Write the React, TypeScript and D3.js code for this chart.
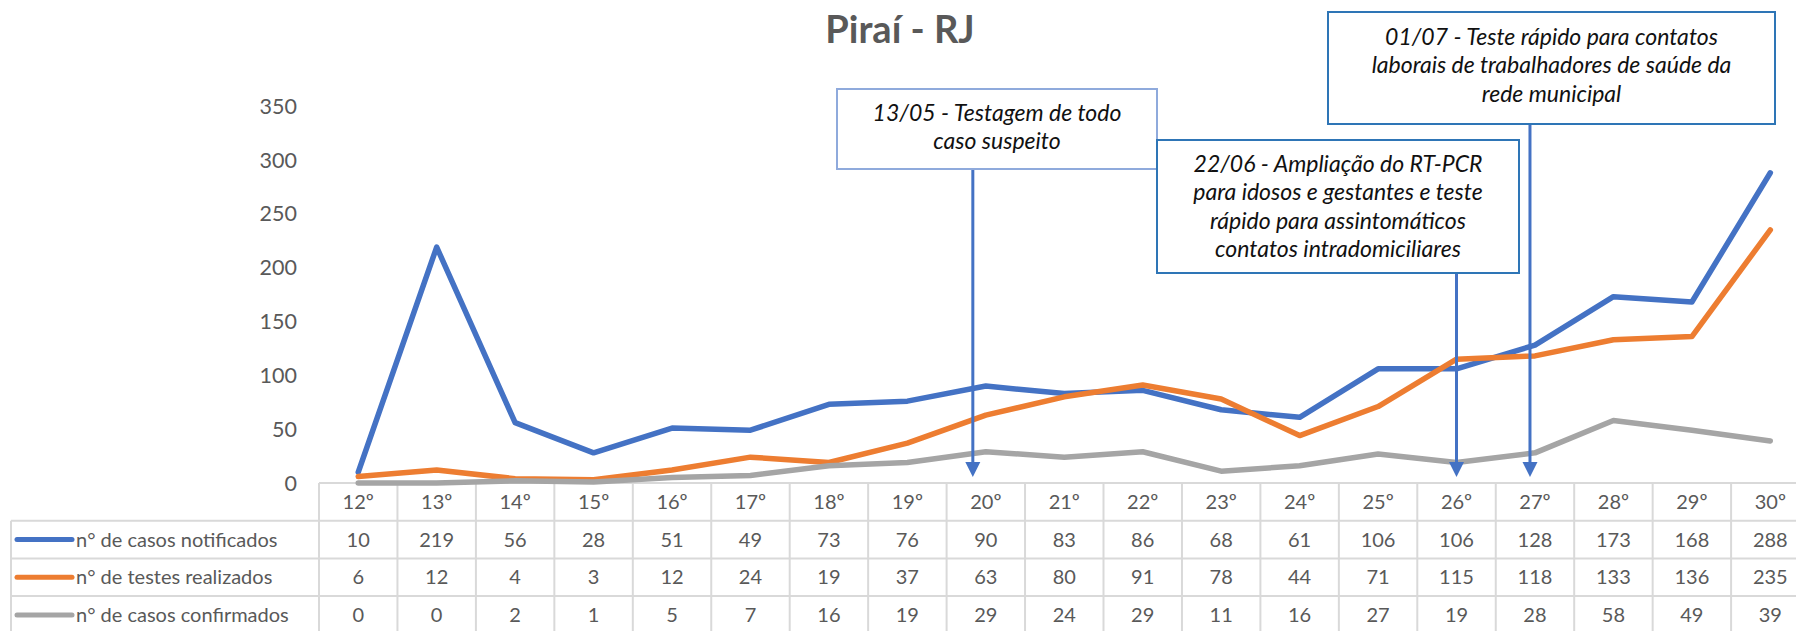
import { useEffect, useRef } from "react";
import * as d3 from "d3";

// semanas epidemiológicas
const weeks = ["12º", "13º", "14º", "15º", "16º", "17º", "18º", "19º", "20º", "21º", "22º", "23º", "24º", "25º", "26º", "27º", "28º", "29º", "30º"];
const casosNotificados = [10, 219, 56, 28, 51, 49, 73, 76, 90, 83, 86, 68, 61, 106, 106, 128, 173, 168, 288];
const testesRealizados = [6, 12, 4, 3, 12, 24, 19, 37, 63, 80, 91, 78, 44, 71, 115, 118, 133, 136, 235];
const casosConfirmados = [0, 0, 2, 1, 5, 7, 16, 19, 29, 24, 29, 11, 16, 27, 19, 28, 58, 49, 39];
const seriesLabels = ["n° de casos notificados", "n° de testes realizados", "n° de casos confirmados"];
const seriesColors = ["#4472C4", "#ED7D31", "#A5A5A5"];
const yTicks = [0, 50, 100, 150, 200, 250, 300, 350];

// anotações (semana de referência + texto)
const noteWeeks = ["20º", "26º", "27º"];
const noteTexts = [
  ["13/05 - Testagem de todo", "caso suspeito"],
  ["22/06 - Ampliação do RT-PCR", "para idosos e gestantes e teste", "rápido para assintomáticos", "contatos intradomiciliares"],
  ["01/07 - Teste rápido para contatos", "laborais de trabalhadores de saúde da", "rede municipal"],
];

const W = 1796, H = 631;
const FONT = "Lato, 'Open Sans', sans-serif";
const GRAY_TXT = "#595959";

export default function App() {
  const ref = useRef<SVGSVGElement>(null);

  useEffect(() => {
    const svg = d3.select(ref.current);
    svg.selectAll("*").remove();
    const series = [casosNotificados, testesRealizados, casosConfirmados];

    const tableLeft = 319, colW = 78.45;
    const x = d3.scaleBand<string>().domain(weeks).range([tableLeft, tableLeft + colW * weeks.length]);
    const cx = (w: string) => (x(w) as number) + x.bandwidth() / 2;
    const y = d3.scaleLinear().domain([0, 350]).range([483, 106]);
    const headTop = 483, rowH = 37.7;
    const rowTop = (i: number) => headTop + rowH * (i + 1);

    // titulo
    svg.append("text")
      .attr("x", 900).attr("y", 43)
      .attr("text-anchor", "middle")
      .attr("font-family", FONT).attr("font-weight", 700).attr("font-size", 38)
      .attr("fill", GRAY_TXT)
      .text("Piraí - RJ");

    // eixo y
    svg.append("g").selectAll("text").data(yTicks).join("text")
      .attr("x", 297).attr("y", d => y(d)).attr("dy", "0.36em")
      .attr("text-anchor", "end")
      .attr("font-family", FONT).attr("font-size", 21.5).attr("fill", GRAY_TXT)
      .text(d => d);

    // grade da tabela
    const grid = svg.append("g").attr("stroke", "#D9D9D9").attr("stroke-width", 2);
    grid.append("line").attr("x1", tableLeft).attr("x2", W).attr("y1", headTop).attr("y2", headTop);
    grid.selectAll(".hrow").data([0, 1, 2]).join("line").attr("class", "hrow")
      .attr("x1", 11).attr("x2", W).attr("y1", d => rowTop(d)).attr("y2", d => rowTop(d));
    grid.selectAll(".vcol").data(d3.range(weeks.length + 1)).join("line").attr("class", "vcol")
      .attr("x1", d => tableLeft + d * colW).attr("x2", d => tableLeft + d * colW)
      .attr("y1", headTop).attr("y2", H);
    grid.append("line").attr("x1", 11).attr("x2", 11).attr("y1", rowTop(0)).attr("y2", H);

    // cabeçalho
    svg.append("g").selectAll("text").data(weeks).join("text")
      .attr("x", d => cx(d)).attr("y", headTop + rowH / 2).attr("dy", "0.36em")
      .attr("text-anchor", "middle")
      .attr("font-family", FONT).attr("font-size", 20).attr("fill", GRAY_TXT)
      .text(d => d);

    // linhas da tabela
    series.forEach((vals, si) => {
      const mid = rowTop(si) + rowH / 2;
      const g = svg.append("g");
      g.append("line")
        .attr("x1", 17).attr("x2", 72).attr("y1", mid).attr("y2", mid)
        .attr("stroke", seriesColors[si]).attr("stroke-width", 5).attr("stroke-linecap", "round");
      g.append("text")
        .attr("x", 76).attr("y", mid).attr("dy", "0.36em")
        .attr("font-family", FONT).attr("font-size", 20).attr("fill", GRAY_TXT)
        .text(seriesLabels[si]);
      g.selectAll(".cell").data(vals).join("text").attr("class", "cell")
        .attr("x", (d, i) => cx(weeks[i])).attr("y", mid).attr("dy", "0.36em")
        .attr("text-anchor", "middle")
        .attr("font-family", FONT).attr("font-size", 20).attr("fill", GRAY_TXT)
        .text(d => d);
    });

    // séries
    const line = d3.line<number>()
      .x((d, i) => cx(weeks[i]))
      .y(d => y(d));
    series.forEach((vals, si) => {
      svg.append("path")
        .datum(vals)
        .attr("d", line)
        .attr("fill", "none")
        .attr("stroke", seriesColors[si])
        .attr("stroke-width", 5.5)
        .attr("stroke-linejoin", "round")
        .attr("stroke-linecap", "round");
    });

    // anotações
    const boxes = [
      { x: 837, y: 89, w: 320, h: 80, stroke: "#8FAADC", top: 121, dx: -13 },
      { x: 1157, y: 140, w: 362, h: 133, stroke: "#2E75B6", top: 172, dx: 0 },
      { x: 1328, y: 12, w: 447, h: 112, stroke: "#2E75B6", top: 45, dx: -5 },
    ];
    const arrowColor = "#4472C4";
    const tipY = y(0) - 6;
    boxes.forEach((b, ni) => {
      const ax = cx(noteWeeks[ni]) + b.dx;
      svg.append("line")
        .attr("x1", ax).attr("x2", ax).attr("y1", b.y + b.h).attr("y2", tipY - 12)
        .attr("stroke", arrowColor).attr("stroke-width", 3);
      svg.append("path")
        .attr("d", `M${ax - 7.5},${tipY - 15}L${ax + 7.5},${tipY - 15}L${ax},${tipY}Z`)
        .attr("fill", arrowColor);
    });
    boxes.forEach((b, ni) => {
      svg.append("rect")
        .attr("x", b.x).attr("y", b.y).attr("width", b.w).attr("height", b.h)
        .attr("fill", "#fff").attr("stroke", b.stroke).attr("stroke-width", 2);
      svg.append("g").selectAll("text").data(noteTexts[ni]).join("text")
        .attr("x", b.x + b.w / 2).attr("y", (d, i) => b.top + i * 28.4)
        .attr("text-anchor", "middle")
        .attr("font-family", FONT).attr("font-style", "italic").attr("font-size", 23)
        .attr("fill", "#111")
        .text(d => d);
    });
  }, []);

  return (
    <svg ref={ref} width={W} height={H}
      style={{ position: "absolute", left: 0, top: 0, background: "#fff" }} />
  );
}
